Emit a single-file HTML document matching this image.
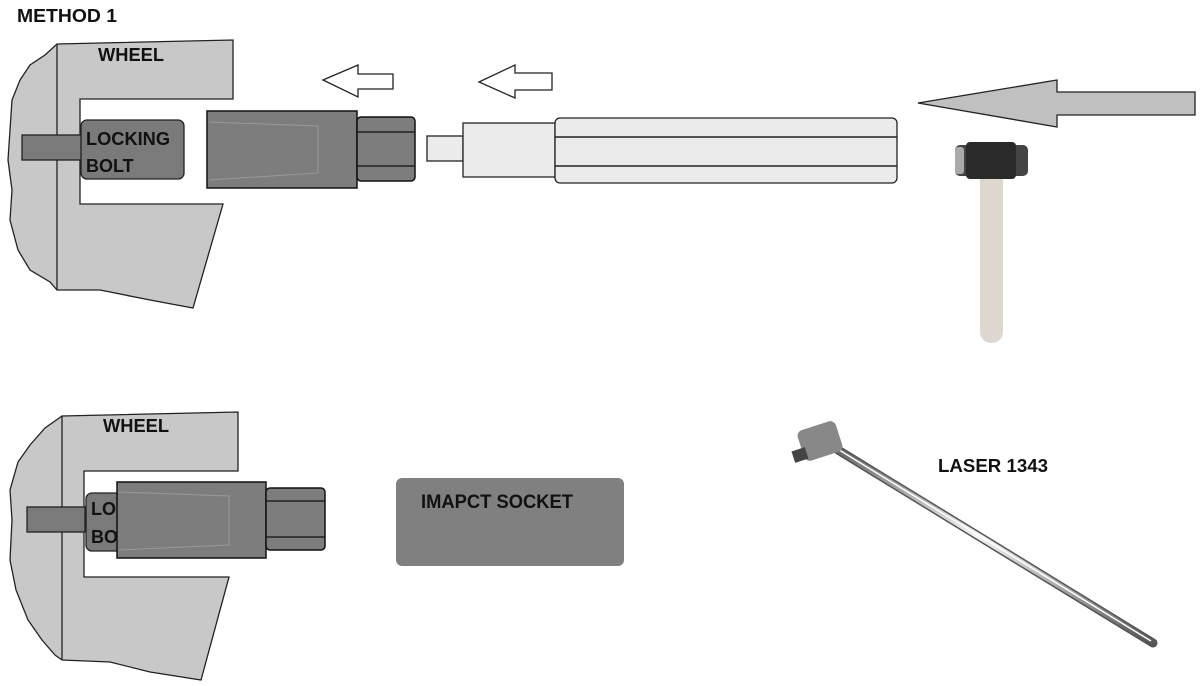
<!DOCTYPE html>
<html><head><meta charset="utf-8"><style>
html,body{margin:0;padding:0;background:#fff}
svg{display:block}
text{font-family:"Liberation Sans",sans-serif;font-weight:bold;fill:#111}
</style></head><body>
<svg width="1200" height="686" viewBox="0 0 1200 686" xmlns="http://www.w3.org/2000/svg">
<defs>
<linearGradient id="rod" x1="0" y1="0" x2="0" y2="1">
<stop offset="0" stop-color="#666"/><stop offset="0.45" stop-color="#f4f4f4"/><stop offset="1" stop-color="#555"/>
</linearGradient>
</defs>
<text x="17" y="22" font-size="18" textLength="100" lengthAdjust="spacingAndGlyphs">METHOD 1</text>
<!-- top wheel -->
<path d="M57,44 L233,40 L233,99 L80,99 L80,204 L223,204 L193,308 L150,300 L100,290 L57,290 L50,282 L30,270 L18,250 L10,220 L12,190 L8,160 L10,130 L12,100 L20,80 L30,65 L45,55 Z" fill="#c8c8c8" stroke="#222" stroke-width="1.3"/>
<line x1="57" y1="44" x2="57" y2="290" stroke="#222" stroke-width="1.3"/>
<text x="98" y="61" font-size="18" textLength="66" lengthAdjust="spacingAndGlyphs">WHEEL</text>
<rect x="22" y="135" width="60" height="25" fill="#7a7a7a" stroke="#222" stroke-width="1.3"/>
<rect x="81" y="120" width="103" height="59" rx="6" fill="#7a7a7a" stroke="#222" stroke-width="1.3"/>
<text x="86" y="145" font-size="18" textLength="84" lengthAdjust="spacingAndGlyphs">LOCKING</text>
<text x="86" y="172" font-size="18">BOLT</text>
<rect x="207" y="111" width="150" height="77" fill="#7d7d7d" stroke="#111" stroke-width="1.5"/>
<path d="M209,122 L318,126 L318,173 L209,180" fill="none" stroke="#999" stroke-width="1"/>
<rect x="357" y="117" width="58" height="64" rx="4" fill="#7d7d7d" stroke="#111" stroke-width="1.5"/>
<line x1="357" y1="132" x2="415" y2="132" stroke="#111" stroke-width="1.3"/>
<line x1="357" y1="166" x2="415" y2="166" stroke="#111" stroke-width="1.3"/>
<!-- small arrows -->
<polygon points="323,80 358,65 358,74 393,74 393,89 358,89 358,97" fill="#fff" stroke="#222" stroke-width="1.3"/>
<polygon points="479,82 515,65 515,73 552,73 552,90 515,90 515,98" fill="#fff" stroke="#222" stroke-width="1.3"/>
<!-- extension -->
<rect x="427" y="136" width="36" height="25" fill="#ebebeb" stroke="#222" stroke-width="1.3"/>
<rect x="463" y="123" width="92" height="54" fill="#ebebeb" stroke="#222" stroke-width="1.3"/>
<rect x="555" y="118" width="342" height="65" rx="5" fill="#ebebeb" stroke="#222" stroke-width="1.3"/>
<line x1="555" y1="137" x2="897" y2="137" stroke="#222" stroke-width="1.5"/>
<line x1="555" y1="166" x2="897" y2="166" stroke="#222" stroke-width="1.5"/>
<!-- big arrow -->
<polygon points="918,103 1057,80 1057,92 1195,92 1195,115 1057,115 1057,127" fill="#c0c0c0" stroke="#222" stroke-width="1.3"/>
<!-- hammer -->
<rect x="980" y="170" width="23" height="173" rx="11" fill="#ddd7cf"/>
<rect x="955" y="145" width="73" height="31" rx="5" fill="#444"/>
<rect x="955" y="147" width="9" height="27" rx="3" fill="#aaa"/>
<rect x="966" y="142" width="50" height="37" rx="4" fill="#2a2a2a"/>
<!-- bottom wheel -->
<path d="M62,416 L238,412 L238,471 L84,471 L84,577 L229,577 L201,680 L150,672 L110,662 L62,660 L55,655 L42,640 L28,620 L16,590 L10,560 L12,520 L10,490 L18,462 L30,445 L45,428 Z" fill="#c8c8c8" stroke="#222" stroke-width="1.3"/>
<line x1="62" y1="416" x2="62" y2="660" stroke="#222" stroke-width="1.3"/>
<text x="103" y="432" font-size="18" textLength="66" lengthAdjust="spacingAndGlyphs">WHEEL</text>
<rect x="27" y="507" width="58" height="25" fill="#7a7a7a" stroke="#222" stroke-width="1.3"/>
<rect x="86" y="493" width="60" height="58" rx="6" fill="#7a7a7a" stroke="#222" stroke-width="1.3"/>
<text x="91" y="515" font-size="18">LO</text>
<text x="91" y="543" font-size="18">BO</text>
<rect x="117" y="482" width="149" height="76" fill="#7d7d7d" stroke="#111" stroke-width="1.5"/>
<path d="M119,492 L229,496 L229,545 L119,550" fill="none" stroke="#999" stroke-width="1"/>
<rect x="266" y="488" width="59" height="62" rx="4" fill="#7d7d7d" stroke="#111" stroke-width="1.5"/>
<line x1="266" y1="501" x2="325" y2="501" stroke="#111" stroke-width="1.3"/>
<line x1="266" y1="537" x2="325" y2="537" stroke="#111" stroke-width="1.3"/>
<rect x="396" y="478" width="228" height="88" rx="6" fill="#808080"/>
<text x="421" y="508" font-size="19" textLength="152" lengthAdjust="spacingAndGlyphs">IMAPCT SOCKET</text>
<!-- ratchet -->
<line x1="838" y1="450" x2="1153" y2="643" stroke="#555" stroke-width="9" stroke-linecap="round"/>
<line x1="838" y1="450" x2="1153" y2="643" stroke="url(#rod)" stroke-width="6" stroke-linecap="round"/>
<line x1="836" y1="448" x2="1151" y2="641" stroke="#fff" stroke-width="1.5"/>
<rect x="800" y="425" width="40" height="32" rx="6" fill="#888" transform="rotate(-18 820 441)"/>
<rect x="793" y="449" width="14" height="12" fill="#444" transform="rotate(-18 800 455)"/>
<text x="938" y="472" font-size="18" textLength="110" lengthAdjust="spacingAndGlyphs">LASER 1343</text>
</svg>
</body></html>
